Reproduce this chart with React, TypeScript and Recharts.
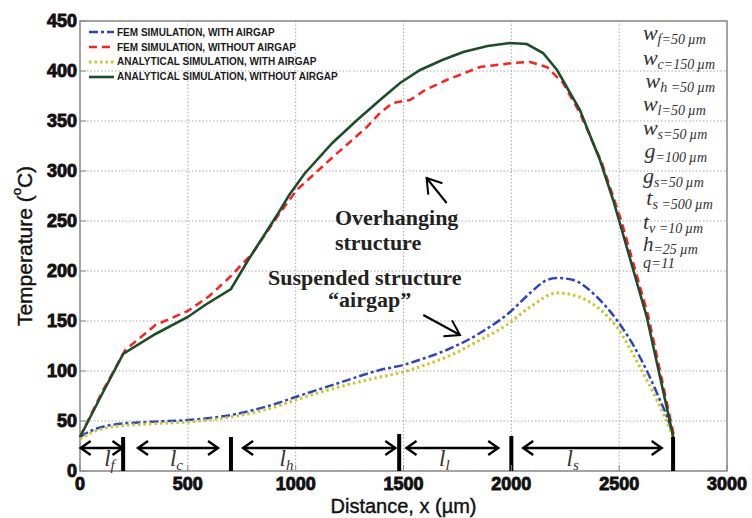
import React from 'react';
import {
  LineChart,
  Line,
  XAxis,
  YAxis,
  CartesianGrid,
  ReferenceLine,
  ReferenceDot,
  ReferenceArea,
  Legend,
  Label,
} from 'recharts';

// ---------- data ----------
const xTicks = [0, 500, 1000, 1500, 2000, 2500, 3000];
const yTicks = [0, 50, 100, 150, 200, 250, 300, 350, 400, 450];

const femWithAirgap: [number, number][] = [
  [0, 34], [60, 41], [144, 46], [312, 49], [501, 51], [700, 56], [918, 68], [1000, 74],
  [1200, 88], [1391, 101], [1498, 106], [1600, 113], [1700, 121], [1855, 138], [1994, 159],
  [2087, 178], [2165, 191], [2212, 193], [2287, 191], [2397, 174], [2489, 151], [2596, 114],
  [2675, 78], [2735, 46], [2752, 34],
];

const femWithoutAirgap: [number, number][] = [
  [0, 34], [100, 78], [210, 121], [350, 146], [500, 160], [600, 175], [700, 195], [800, 218],
  [920, 256], [1005, 281], [1173, 314], [1330, 344], [1391, 358], [1450, 368], [1530, 371],
  [1600, 381], [1700, 391], [1855, 404], [2007, 408], [2087, 409], [2165, 404], [2240, 388],
  [2318, 358], [2420, 308], [2510, 250], [2635, 155], [2755, 34],
];

const analyticalWithAirgap: [number, number][] = [
  [0, 32], [60, 39], [144, 44], [312, 47], [501, 49], [700, 54], [918, 65], [1000, 71],
  [1200, 84], [1391, 94], [1498, 99], [1600, 106], [1700, 114], [1855, 131], [1978, 146],
  [2087, 164], [2212, 178], [2287, 176], [2397, 164], [2489, 144], [2596, 104], [2675, 71],
  [2735, 42], [2752, 32],
];

const analyticalWithoutAirgap: [number, number][] = [
  [0, 34], [100, 76], [200, 117], [350, 137], [500, 154], [580, 166], [700, 182], [780, 211],
  [920, 258], [970, 276], [1040, 297], [1170, 328], [1285, 351], [1391, 371], [1484, 388], [1577, 401],
  [1680, 411], [1777, 419], [1890, 425], [1994, 428], [2072, 427], [2147, 418], [2212, 401],
  [2318, 361], [2379, 328], [2411, 311], [2472, 271], [2503, 248], [2628, 154], [2751, 34],
];

const seriesNames = [
  'FEM SIMULATION, WITH AIRGAP',
  'FEM SIMULATION, WITHOUT AIRGAP',
  'ANALYTICAL SIMULATION, WITH AIRGAP',
  'ANALYTICAL SIMULATION, WITHOUT AIRGAP',
];

// section markers
const sectionBounds = [200, 700, 1480, 2000, 2750];
const sectionBoundTops = [34, 34, 37, 35, 34];
const sectionArrowStarts = [3, 269, 756, 1514, 2055];
const sectionArrowEnds = [197, 640, 1462, 1939, 2697];
const sectionArrowY = 23;
const sectionLabelX = [112, 417, 925, 1665, 2256];
const sectionLabelSubs = ['f', 'c', 'h', 'l', 's'];
const sectionLabelY = 5;

// parameter list
const paramSymbols = ['w', 'w', 'w', 'w', 'w', 'g', 'g', 't', 't', 'h', 'q'];
const paramSubs = ['f', 'c', 'h', 'l', 's', '', 's', 's', 'v', '', ''];
const paramValues = ['=50\u202Fµm', '=150\u202Fµm', ' =50\u202Fµm', '=50\u202Fµm', '=50\u202Fµm', '=100\u202Fµm', '=50\u202Fµm', ' =500\u202Fµm', ' =10\u202Fµm', '=25\u202Fµm', '=11'];
const paramX = [2610, 2610, 2622, 2610, 2610, 2618, 2610, 2626, 2610, 2610, 2610];
const paramY = [431, 406, 383, 360, 336, 313, 288, 266, 242, 220, 203];

// text annotations
const noteLines = ['Overhanging', 'structure', 'Suspended structure', '\u201Cairgap\u201D'];
const noteX = [1182, 1182, 872, 1150];
const noteY = [246, 221, 186, 164];
const noteArrowFrom = [{ x: 1700, y: 268 }, { x: 1592, y: 156 }];
const noteArrowTo = [{ x: 1607, y: 293 }, { x: 1762, y: 136 }];

// ---------- styles ----------
const seriesStyles = [
  { color: '#2f45c0', dash: '9 3 3 3', width: 2.5 },
  { color: '#ff1f1f', dash: '8 5', width: 2.5 },
  { color: '#c8c828', dash: '2.5 3', width: 3 },
  { color: '#1d4d2a', dash: undefined as string | undefined, width: 2.6 },
];
const seriesData = [femWithAirgap, femWithoutAirgap, analyticalWithAirgap, analyticalWithoutAirgap];
const seriesCurve = ['monotone', 'linear', 'monotone', 'linear'] as const;

const sans = 'Liberation Sans, Arial, sans-serif';
const serif = 'Liberation Serif, Times New Roman, serif';

const toPoints = (pairs: [number, number][]) => pairs.map(([x, y]) => ({ x, y }));

const headPath = (fx: number, fy: number, tx: number, ty: number, len: number, half: number) => {
  const a = Math.atan2(ty - fy, tx - fx);
  const bx = tx - len * Math.cos(a);
  const by = ty - len * Math.sin(a);
  const px = -Math.sin(a) * half;
  const py = Math.cos(a) * half;
  return `M${bx + px},${by + py} L${tx},${ty} L${bx - px},${by - py}`;
};

const DoubleArrow = (p: any) => {
  const { x1, y1, x2, y2 } = p;
  return (
    <g stroke="#000" fill="none" strokeWidth={2.4}>
      <line x1={x1} y1={y1} x2={x2} y2={y2} />
      <path d={headPath(x2, y2, x1, y1, 10, 7)} />
      <path d={headPath(x1, y1, x2, y2, 10, 7)} />
    </g>
  );
};

const SingleArrow = (p: any) => {
  const { x1, y1, x2, y2 } = p;
  return (
    <g stroke="#000" fill="none" strokeWidth={2}>
      <line x1={x1} y1={y1} x2={x2} y2={y2} />
      <path d={headPath(x1, y1, x2, y2, 14, 9)} />
    </g>
  );
};

const tickTextStyle: React.CSSProperties = {
  fontFamily: sans,
  fontWeight: 700,
  fontSize: 18,
  fill: '#111',
  stroke: '#111',
  strokeWidth: 0.9,
};

const XTick = (p: any) => (
  <g>
    <text x={p.x} y={p.y} dy="0.71em" textAnchor="middle" style={tickTextStyle}>
      {p.payload ? p.payload.value : ''}
    </text>
  </g>
);

const YTick = (p: any) => (
  <g>
    <text x={p.x} y={p.y} dy="0.355em" textAnchor="end" style={tickTextStyle}>
      {p.payload ? p.payload.value : ''}
    </text>
  </g>
);

const LegendBox = () => (
  <div style={{ fontFamily: sans, fontWeight: 'bold', fontSize: 10, color: '#1a1a1a' }}>
    {seriesNames.map((name, i) => (
      <div key={name} style={{ display: 'flex', alignItems: 'center', height: 14.8, whiteSpace: 'nowrap' }}>
        <svg width={27} height={8} style={{ marginRight: 2 }}>
          <line x1={1} y1={4} x2={26} y2={4} stroke={seriesStyles[i].color} strokeWidth={seriesStyles[i].width} strokeDasharray={seriesStyles[i].dash} />
        </svg>
        <span>{name}</span>
      </div>
    ))}
  </div>
);

const YLabel = (props: any) => {
  const vb = props.viewBox || { x: 0, y: 21, width: 80, height: 450 };
  const cx = vb.x + 24;
  const cy = vb.y + vb.height / 2;
  return (
    <text
      x={cx}
      y={cy}
      transform={`rotate(-90 ${cx} ${cy})`}
      textAnchor="middle"
      dominantBaseline="central"
      style={{ fontFamily: sans, fontSize: 21, fill: '#111', stroke: '#111', strokeWidth: 0.4 }}
    >
      Temperature (<tspan dy={-8} style={{ fontSize: 13 }}>o</tspan><tspan dy={8}>C)</tspan>
    </text>
  );
};

const XLabel = (props: any) => {
  const vb = props.viewBox || { x: 80, y: 471, width: 647, height: 47 };
  return (
    <text
      x={vb.x + vb.width / 2}
      y={vb.y + 42}
      textAnchor="middle"
      style={{ fontFamily: sans, fontSize: 20, fill: '#111', stroke: '#111', strokeWidth: 0.4 }}
    >
      Distance, x  (µm)
    </text>
  );
};

export default function App() {
  return (
    <div style={{ position: 'absolute', left: 0, top: 0, width: 752, height: 518, background: '#fff', fontFamily: sans }}>
      <LineChart width={752} height={518} margin={{ top: 21, right: 25, bottom: 0, left: 0 }}>
        <CartesianGrid stroke="#a8a8a8" strokeDasharray="1.5 2" />
        <XAxis
          dataKey="x"
          type="number"
          domain={[0, 3000]}
          ticks={xTicks}
          allowDuplicatedCategory={false}
          height={47}
          axisLine={false}
          tickLine={{ stroke: '#888' }}
          tickSize={-6}
          tickMargin={12}
          tick={<XTick />}
        >
          <Label content={XLabel} />
        </XAxis>
        <YAxis
          type="number"
          domain={[0, 450]}
          ticks={yTicks}
          width={80}
          axisLine={false}
          tickLine={{ stroke: '#888' }}
          tickSize={-6}
          tickMargin={9}
          tick={<YTick />}
        >
          <Label content={YLabel} />
        </YAxis>
        <ReferenceArea x1={0} x2={3000} y1={0} y2={450} fill="none" fillOpacity={0} stroke="#8c8c8c" strokeWidth={1.5} ifOverflow="visible" />

        {seriesData.map((d, i) => (
          <Line
            key={seriesNames[i]}
            name={seriesNames[i]}
            data={toPoints(d)}
            dataKey="y"
            type={seriesCurve[i]}
            stroke={seriesStyles[i].color}
            strokeWidth={seriesStyles[i].width}
            strokeDasharray={seriesStyles[i].dash}
            dot={false}
            activeDot={false}
            isAnimationActive={false}
          />
        ))}

        {sectionBounds.map((b, i) => (
          <ReferenceLine
            key={`bar-${b}`}
            segment={[{ x: b, y: 0 }, { x: b, y: sectionBoundTops[i] }]}
            stroke="#000"
            strokeWidth={4}
            ifOverflow="visible"
          />
        ))}
        {sectionArrowStarts.map((s, i) => (
          <ReferenceLine
            key={`arr-${s}`}
            segment={[{ x: s, y: sectionArrowY }, { x: sectionArrowEnds[i], y: sectionArrowY }]}
            ifOverflow="visible"
            shape={DoubleArrow}
          />
        ))}
        {sectionLabelX.map((lx, i) => (
          <ReferenceDot
            key={`sl-${i}`}
            x={lx}
            y={sectionLabelY}
            ifOverflow="visible"
            shape={(p: any) => (
              <text x={p.cx} y={p.cy} fontFamily={serif} fontStyle="italic" fontSize={23} fill="#333">
                l<tspan fontSize={15} dy={4}>{sectionLabelSubs[i]}</tspan>
              </text>
            )}
          />
        ))}

        {paramSymbols.map((s, i) => (
          <ReferenceDot
            key={`pm-${i}`}
            x={paramX[i]}
            y={paramY[i]}
            ifOverflow="visible"
            shape={(p: any) => (
              <text x={p.cx} y={p.cy} fontFamily={serif} fontStyle="italic" fill="#333" fontSize={s === 'q' ? 16 : s === 'h' ? 21 : 22}>
                {s}
                <tspan fontSize={s === 'q' ? 15 : 14} dy={s === 'q' ? 0 : s === 'h' ? 3 : 4}>
                  {paramSubs[i]}
                  {paramValues[i]}
                </tspan>
              </text>
            )}
          />
        ))}

        {noteLines.map((t, i) => (
          <ReferenceDot
            key={`note-${i}`}
            x={noteX[i]}
            y={noteY[i]}
            ifOverflow="visible"
            shape={(p: any) => (
              <text x={p.cx} y={p.cy} fontFamily={serif} fontWeight="bold" fontSize={22} fill="#222">
                {t}
              </text>
            )}
          />
        ))}
        {noteArrowFrom.map((f, i) => (
          <ReferenceLine
            key={`na-${i}`}
            segment={[f, noteArrowTo[i]]}
            ifOverflow="visible"
            shape={SingleArrow}
          />
        ))}

        <Legend
          layout="vertical"
          align="center"
          verticalAlign="middle"
          wrapperStyle={{ top: 25, left: 88, width: 'auto', height: 'auto' }}
          content={() => <LegendBox />}
        />
      </LineChart>
    </div>
  );
}
